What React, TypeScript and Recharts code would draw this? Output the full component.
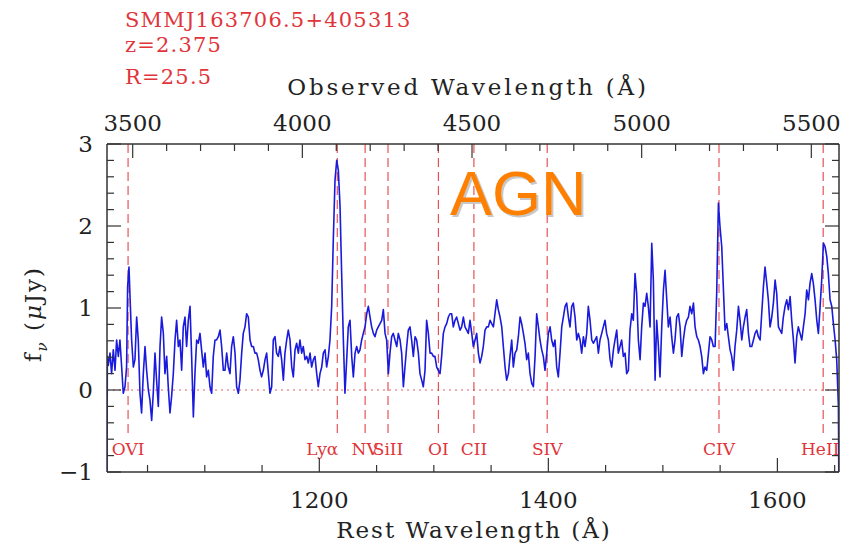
import { LineChart, Line, XAxis, YAxis, ReferenceLine } from 'recharts';

// redshift of the source
const Z = 2.375;

// rest wavelength (Å) and flux (μJy)
const WAVE = [
  1014.6, 1014.9, 1015.7, 1017.2, 1018.6, 1020.1, 1021.6, 1023.0, 1024.5, 1025.9, 1027.4, 1028.8, 1030.3, 1031.7,
  1032.6, 1033.8, 1034.7, 1036.1, 1037.6, 1039.0, 1040.5, 1041.9, 1043.4, 1044.8, 1046.3, 1047.8, 1049.2, 1050.7,
  1052.1, 1053.6, 1055.0, 1056.5, 1057.9, 1059.4, 1060.9, 1062.3, 1063.8, 1065.2, 1066.7, 1068.1, 1069.6, 1071.0,
  1072.5, 1074.0, 1075.4, 1076.9, 1078.3, 1079.8, 1081.2, 1082.7, 1084.1, 1085.6, 1087.1, 1088.5, 1090.0, 1091.4,
  1092.9, 1094.3, 1095.8, 1097.2, 1098.7, 1100.2, 1101.6, 1103.1, 1104.5, 1106.0, 1107.4, 1108.9, 1110.3, 1111.8,
  1113.3, 1114.7, 1116.2, 1117.6, 1119.1, 1120.5, 1122.0, 1123.4, 1124.9, 1126.4, 1127.8, 1129.3, 1130.7, 1132.2,
  1133.6, 1135.1, 1136.5, 1138.0, 1139.5, 1140.9, 1142.4, 1143.8, 1145.3, 1146.7, 1148.2, 1149.6, 1151.1, 1152.6,
  1154.0, 1155.5, 1156.9, 1158.4, 1159.8, 1161.3, 1162.7, 1164.2, 1165.6, 1167.1, 1168.6, 1170.0, 1171.5, 1172.9,
  1174.4, 1175.9, 1177.3, 1178.8, 1180.2, 1181.7, 1183.1, 1184.6, 1186.0, 1187.5, 1189.0, 1190.4, 1191.9, 1193.3,
  1194.8, 1196.2, 1197.7, 1199.1, 1200.6, 1202.1, 1203.5, 1205.0, 1206.4, 1207.9, 1209.3, 1210.8, 1212.2, 1213.7,
  1215.2, 1216.6, 1218.1, 1219.5, 1221.0, 1222.4, 1223.9, 1225.3, 1226.8, 1228.3, 1229.7, 1231.2, 1232.6, 1234.1,
  1235.5, 1237.0, 1238.4, 1239.9, 1241.4, 1242.8, 1244.3, 1245.7, 1247.2, 1248.6, 1250.1, 1251.5, 1253.0, 1254.5,
  1255.9, 1257.4, 1258.8, 1260.3, 1261.7, 1263.2, 1264.6, 1266.1, 1267.6, 1269.0, 1270.5, 1271.9, 1273.4, 1274.8,
  1276.3, 1277.7, 1279.2, 1280.6, 1282.1, 1283.6, 1285.0, 1286.5, 1287.9, 1289.4, 1290.8, 1292.3, 1293.7, 1295.2,
  1296.7, 1298.1, 1299.6, 1301.0, 1302.5, 1303.9, 1305.4, 1306.8, 1308.3, 1309.8, 1311.2, 1312.7, 1314.1, 1315.6,
  1317.0, 1318.5, 1319.9, 1321.4, 1322.9, 1324.3, 1325.8, 1327.2, 1328.7, 1330.1, 1331.6, 1333.1, 1334.5, 1336.0,
  1337.4, 1338.9, 1340.3, 1341.8, 1343.2, 1344.7, 1346.2, 1347.6, 1349.1, 1350.5, 1352.0, 1353.4, 1354.9, 1356.3,
  1357.8, 1359.3, 1360.7, 1362.2, 1363.6, 1365.1, 1366.5, 1368.0, 1369.4, 1370.9, 1372.4, 1373.8, 1375.3, 1376.7,
  1378.2, 1379.6, 1381.1, 1382.5, 1384.0, 1385.5, 1386.9, 1388.4, 1389.8, 1391.3, 1392.7, 1394.2, 1395.6, 1397.1,
  1398.6, 1400.0, 1401.5, 1402.9, 1404.4, 1405.8, 1407.3, 1408.7, 1410.2, 1411.7, 1413.1, 1414.6, 1416.0, 1417.5,
  1418.9, 1420.4, 1421.8, 1423.3, 1424.8, 1426.2, 1427.7, 1429.1, 1430.6, 1432.0, 1433.5, 1434.9, 1436.4, 1437.9,
  1439.3, 1440.8, 1442.2, 1443.7, 1445.1, 1446.6, 1448.0, 1449.5, 1450.9, 1452.4, 1453.9, 1455.3, 1456.8, 1458.2,
  1459.7, 1461.1, 1462.6, 1464.0, 1465.5, 1467.0, 1468.4, 1469.9, 1471.3, 1472.8, 1474.2, 1475.7, 1477.1, 1478.6,
  1480.1, 1481.5, 1483.0, 1484.4, 1485.9, 1487.3, 1488.8, 1490.3, 1491.7, 1493.2, 1494.6, 1496.1, 1497.5, 1499.0,
  1500.5, 1501.9, 1503.4, 1504.8, 1506.3, 1507.7, 1509.2, 1510.6, 1512.1, 1513.6, 1515.0, 1516.5, 1517.9, 1519.4,
  1520.8, 1522.3, 1523.7, 1525.2, 1526.7, 1528.1, 1529.6, 1531.0, 1532.5, 1533.9, 1535.4, 1536.8, 1538.3, 1539.8,
  1541.2, 1542.7, 1544.1, 1545.6, 1547.0, 1548.5, 1549.9, 1551.4, 1552.9, 1554.3, 1555.8, 1557.2, 1558.7, 1560.1,
  1561.6, 1563.0, 1564.5, 1566.0, 1567.4, 1568.9, 1570.3, 1571.8, 1573.2, 1574.7, 1576.1, 1577.6, 1579.1, 1580.5,
  1582.0, 1583.4, 1584.9, 1586.3, 1587.8, 1589.2, 1590.7, 1592.1, 1593.6, 1595.1, 1596.5, 1598.0, 1599.4, 1600.9,
  1602.3, 1603.8, 1605.2, 1606.7, 1608.2, 1609.6, 1611.1, 1612.5, 1614.0, 1615.4, 1616.9, 1618.3, 1619.8, 1621.3,
  1622.7, 1624.2, 1625.6, 1627.1, 1628.5, 1630.0, 1631.4, 1632.9, 1634.4, 1635.8, 1637.3, 1638.7, 1640.2, 1641.6,
  1643.1, 1644.5, 1646.0, 1647.5, 1648.9, 1650.4, 1651.8, 1653.3, 1653.7,
];

const FLUX = [
  -1.2, 0.41, 0.3, 0.45, 0.2, 0.49, 0.24, 0.61, 0.41, 0.61, 0.28, -0.04, 0.04, 0.28,
  1.26, 1.5, 1.14, 0.61, 0.28, 0.37, 0.89, 0.61, -0.04, -0.28, 0.2, 0.53, 0.24, 0.0,
  -0.12, -0.37, -0.04, 0.45, 0.12, -0.2, 0.53, 0.89, 0.69, 0.2, 0.41, 0.04, -0.28, -0.08,
  0.2, 0.61, 0.85, 0.53, 0.61, 0.24, 0.77, 0.89, 0.53, 0.85, 1.02, 0.41, -0.33, 0.2,
  0.61, 0.57, 0.69, 0.49, 0.28, 0.45, 0.16, 0.24, 0.04, -0.04, 0.41, 0.61, 0.61, 0.65,
  0.73, 0.53, 0.24, 0.24, 0.45, 0.28, 0.2, 0.53, 0.65, 0.45, 0.04, -0.04, 0.12, 0.45,
  0.69, 0.77, 0.93, 0.89, 0.61, 0.53, 0.53, 0.45, 0.45, 0.37, 0.24, 0.16, 0.24, 0.37,
  0.45, 0.2, -0.04, 0.04, 0.61, 0.65, 0.45, 0.41, 0.53, 0.37, 0.12, 0.45, 0.61, 0.73,
  0.61, 0.28, 0.16, 0.49, 0.57, 0.45, 0.61, 0.45, 0.53, 0.37, 0.41, 0.33, 0.45, 0.28,
  0.37, 0.41, 0.2, 0.04, 0.2, 0.28, 0.45, 0.49, 0.28, 0.41, 0.61, 1.02, 1.83, 2.56,
  2.8, 2.68, 2.24, 1.42, 0.61, -0.04, 0.37, 0.77, 0.85, 0.41, 0.16, 0.45, 0.53, 0.45,
  0.49, 0.61, 0.69, 0.77, 0.93, 1.02, 0.89, 0.77, 0.69, 0.65, 0.73, 0.77, 0.81, 0.85,
  0.98, 0.69, 0.61, 0.2, 0.45, 0.65, 0.69, 0.61, 0.53, 0.69, 0.61, 0.45, 0.04, 0.28,
  0.53, 0.73, 0.77, 0.61, 0.41, 0.65, 0.61, 0.45, 0.2, 0.12, 0.04, 0.24, 0.85, 0.69,
  0.45, 0.45, 0.41, 0.41, 0.28, 0.24, 0.2, 0.41, 0.69, 0.77, 0.81, 0.89, 0.93, 0.93,
  0.77, 0.85, 0.89, 0.81, 0.73, 0.77, 0.89, 0.77, 0.73, 0.69, 0.85, 0.69, 0.53, 0.61,
  0.69, 0.45, 0.33, 0.41, 0.53, 0.73, 0.77, 0.77, 0.85, 0.81, 0.77, 0.93, 1.1, 0.98,
  0.89, 0.77, 0.53, 0.28, 0.12, 0.2, 0.41, 0.61, 0.28, 0.45, 0.49, 0.65, 0.89, 0.81,
  0.69, 0.57, 0.37, 0.45, 0.2, 0.08, 0.04, 0.41, 0.93, 0.77, 0.61, 0.49, 0.41, 0.24,
  0.45, 0.69, 0.77, 0.61, 0.53, 0.61, 0.28, 0.16, 0.45, 0.77, 0.89, 1.02, 1.06, 0.89,
  0.77, 1.02, 1.06, 0.89, 0.61, 0.69, 0.61, 0.45, 0.65, 0.53, 0.69, 1.02, 0.85, 0.61,
  0.57, 0.61, 0.65, 0.45, 0.61, 0.69, 0.77, 0.85, 0.69, 0.61, 0.37, 0.28, 0.49, 0.61,
  0.73, 0.45, 0.53, 0.61, 0.41, 0.45, 0.2, 0.24, 0.73, 0.93, 0.85, 1.42, 1.18, 0.61,
  0.37, 0.77, 1.06, 1.02, 1.18, 1.02, 0.77, 1.79, 1.34, 0.12, 0.85, 0.53, 0.16, 0.77,
  1.22, 1.46, 1.1, 0.77, 0.89, 0.65, 0.45, 0.61, 0.89, 0.93, 0.77, 0.41, 0.61, 0.77,
  0.85, 0.89, 1.02, 0.93, 1.06, 0.77, 0.65, 0.61, 0.53, 0.41, 0.2, 0.28, 0.24, 0.45,
  0.65, 0.61, 0.53, 0.53, 1.18, 2.28, 1.99, 1.75, 1.22, 0.73, 0.81, 0.65, 0.49, 0.41,
  0.24, 0.53, 0.73, 1.02, 0.85, 0.61, 0.77, 0.89, 0.98, 0.69, 0.53, 0.53, 0.61, 0.69,
  0.73, 0.65, 0.61, 0.93, 1.26, 1.5, 1.3, 1.1, 0.77, 0.89, 1.06, 1.34, 1.18, 0.77,
  0.73, 0.69, 0.89, 1.02, 1.1, 0.98, 1.14, 0.85, 0.61, 0.33, 0.65, 0.77, 0.69, 0.61,
  0.77, 0.93, 1.22, 1.1, 1.3, 1.42, 1.3, 1.1, 0.85, 0.69, 1.02, 1.34, 1.79, 1.75,
  1.63, 1.42, 1.1, 1.02, 0.81, 0.61, 0.37, -0.2, -1.2,
];

// emission/absorption lines marked on the plot
const LINE_NAMES = ['OVI', 'Lyα', 'NV', 'SiII', 'OI', 'CII', 'SIV', 'CIV', 'HeII'];
const LINE_WAVES = [1033, 1215.7, 1240, 1260, 1304, 1335, 1399, 1549, 1640];

const REST_TICKS = [1050, 1100, 1150, 1200, 1250, 1300, 1350, 1400, 1450, 1500, 1550, 1600, 1650];
const REST_LABELS = [1200, 1400, 1600];
const OBS_TICKS = [
  3500, 3600, 3700, 3800, 3900, 4000, 4100, 4200, 4300, 4400, 4500,
  4600, 4700, 4800, 4900, 5000, 5100, 5200, 5300, 5400, 5500,
];
const OBS_LABELS = [3500, 4000, 4500, 5000, 5500];
const FLUX_TICKS = [
  -1, -0.8, -0.6, -0.4, -0.2, 0, 0.2, 0.4, 0.6, 0.8, 1, 1.2, 1.4, 1.6, 1.8, 2,
  2.2, 2.4, 2.6, 2.8, 3,
];
const FLUX_LABELS = [-1, 0, 1, 2, 3];

const data = WAVE.map((w, i) => ({ wave: w, flux: FLUX[i] }));

const SERIF = '"DejaVu Serif", serif';
const AXIS = '#333';
const RED = '#e0353a';
const MAJOR = 14;
const MINOR = 7;

function BottomTick({ x, y, payload }: any) {
  const major = REST_LABELS.includes(payload.value);
  return (
    <g>
      <line x1={x} x2={x} y1={y} y2={y - (major ? MAJOR : MINOR)} stroke={AXIS} strokeWidth={1.2} />
      {major && (
        <text x={x} y={y + 36} textAnchor="middle" fontFamily={SERIF} fontSize={23} fill="#222">
          {payload.value}
        </text>
      )}
    </g>
  );
}

function TopTick({ x, y, payload }: any) {
  const obs = Math.round(payload.value * (1 + Z));
  const major = OBS_LABELS.includes(obs);
  return (
    <g>
      <line x1={x} x2={x} y1={y} y2={y + (major ? MAJOR : MINOR)} stroke={AXIS} strokeWidth={1.2} />
      {major && (
        <text x={x} y={y - 13} textAnchor="middle" fontFamily={SERIF} fontSize={23} fill="#222">
          {obs}
        </text>
      )}
    </g>
  );
}

function LeftTick({ x, y, payload }: any) {
  const v = payload.value;
  const major = FLUX_LABELS.some((m) => Math.abs(m - v) < 1e-6);
  return (
    <g>
      <line x1={x} x2={x + (major ? MAJOR : MINOR)} y1={y} y2={y} stroke={AXIS} strokeWidth={1.2} />
      {major && (
        <text x={x - 14} y={y + 8} textAnchor="end" fontFamily={SERIF} fontSize={23} fill="#222">
          {v < 0 ? `\u2212${Math.abs(v)}` : v}
        </text>
      )}
    </g>
  );
}

function RightTick({ x, y, payload }: any) {
  const major = FLUX_LABELS.some((m) => Math.abs(m - payload.value) < 1e-6);
  return <line x1={x} x2={x - (major ? MAJOR : MINOR)} y1={y} y2={y} stroke={AXIS} strokeWidth={1.2} />;
}

function LineLabel({ viewBox, text }: any) {
  if (!viewBox) return null;
  const anchor = text === 'Lyα' ? 'end' : 'middle';
  const shift = text === 'Lyα' ? 1 : text === 'HeII' ? -3 : 0;
  return (
    <text
      x={viewBox.x + shift}
      y={viewBox.y + viewBox.height + 18}
      textAnchor={anchor}
      fontFamily={SERIF}
      fontSize={17}
      fill={RED}
    >
      {text}
    </text>
  );
}

export default function App() {
  return (
    <div style={{ position: 'absolute', left: 0, top: 0, width: 850, height: 548, background: '#fff' }}>
      <LineChart width={850} height={548} data={data} margin={{ top: 104, right: 10, bottom: 36, left: 47 }}>
        <XAxis
          xAxisId="rest"
          dataKey="wave"
          type="number"
          orientation="bottom"
          domain={[1014.6, 1653.8]}
          allowDataOverflow
          ticks={REST_TICKS}
          interval={0}
          height={40}
          tickSize={0}
          tickMargin={0}
          tickLine={false}
          tick={<BottomTick />}
          axisLine={{ stroke: AXIS, strokeWidth: 1.5 }}
        />
        <XAxis
          xAxisId="obs"
          dataKey="wave"
          type="number"
          orientation="top"
          domain={[1014.6, 1653.8]}
          allowDataOverflow
          ticks={OBS_TICKS.map((o) => o / (1 + Z))}
          interval={0}
          height={40}
          tickSize={0}
          tickMargin={0}
          tickLine={false}
          tick={<TopTick />}
          axisLine={{ stroke: AXIS, strokeWidth: 1.5 }}
        />
        <YAxis
          yAxisId="flux"
          type="number"
          domain={[-1, 3]}
          allowDataOverflow
          ticks={FLUX_TICKS}
          interval={0}
          width={60}
          tickSize={0}
          tickMargin={0}
          tickLine={false}
          tick={<LeftTick />}
          axisLine={{ stroke: AXIS, strokeWidth: 1.5 }}
        />
        <YAxis
          yAxisId="right"
          type="number"
          orientation="right"
          domain={[-1, 3]}
          allowDataOverflow
          ticks={FLUX_TICKS}
          interval={0}
          width={1}
          tickSize={0}
          tickMargin={0}
          tickLine={false}
          tick={<RightTick />}
          axisLine={{ stroke: AXIS, strokeWidth: 1.5 }}
        />
        <ReferenceLine
          xAxisId="rest"
          yAxisId="flux"
          y={0}
          stroke={RED}
          strokeWidth={1}
          strokeDasharray="2 4"
          strokeOpacity={0.8}
        />
        {LINE_WAVES.map((w, i) => (
          <ReferenceLine
            key={LINE_NAMES[i]}
            xAxisId="rest"
            yAxisId="flux"
            segment={[
              { x: w, y: 3 },
              { x: w, y: -0.57 },
            ]}
            stroke={RED}
            strokeWidth={1.2}
            strokeDasharray="9 5"
            strokeOpacity={0.85}
            label={<LineLabel text={LINE_NAMES[i]} />}
          />
        ))}
        <Line
          xAxisId="rest"
          yAxisId="flux"
          dataKey="flux"
          type="linear"
          stroke="#1a1adc"
          strokeWidth={1.6}
          strokeLinejoin="round"
          dot={false}
          isAnimationActive={false}
        />
      </LineChart>
      <svg
        width={850}
        height={548}
        style={{ position: 'absolute', left: 0, top: 0, pointerEvents: 'none' }}
      >
        <g fontFamily={SERIF} fontSize={21} fill={RED} letterSpacing={1.2}>
          <text x={125} y={27}>SMMJ163706.5+405313</text>
          <text x={125} y={52}>z=2.375</text>
          <text x={125} y={84}>R=25.5</text>
        </g>
        <text x={468} y={95} textAnchor="middle" fontFamily={SERIF} fontSize={23} fill="#222" letterSpacing={2.8}>
          Observed Wavelength (Å)
        </text>
        <text x={474} y={538} textAnchor="middle" fontFamily={SERIF} fontSize={23} fill="#222" letterSpacing={2}>
          Rest Wavelength (Å)
        </text>
        <text
          transform="translate(41,314) rotate(-90)"
          textAnchor="middle"
          fontFamily={SERIF}
          fontSize={23}
          fill="#222"
          letterSpacing={2}
        >
          f
          <tspan fontSize={15} dy={6} fontStyle="italic">ν</tspan>
          <tspan dy={-6}> (</tspan>
          <tspan fontStyle="italic">μ</tspan>
          <tspan>Jy)</tspan>
        </text>
        <text x={452} y={217} fontFamily='"Liberation Sans", Arial, sans-serif' fontSize={63} fill="#c8c8c8">
          AGN
        </text>
        <text x={450} y={215} fontFamily='"Liberation Sans", Arial, sans-serif' fontSize={63} fill="#ff8000">
          AGN
        </text>
      </svg>
    </div>
  );
}
